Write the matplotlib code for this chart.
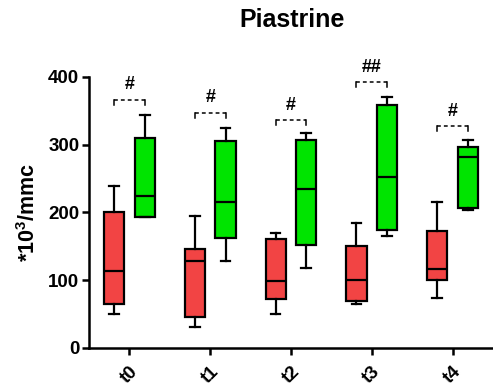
import matplotlib
matplotlib.use("Agg")
import matplotlib.pyplot as plt
import numpy as np

plt.rcParams["font.family"] = ["Liberation Sans", "DejaVu Sans"]
plt.rcParams["font.weight"] = "bold"
plt.rcParams["mathtext.fontset"] = "custom"
plt.rcParams["mathtext.bf"] = "Liberation Sans:bold"
plt.rcParams["mathtext.rm"] = "Liberation Sans:bold"

# time points
categorie = ["t0", "t1", "t2", "t3", "t4"]

# red group: whisker low, Q1, median, Q3, whisker high
rosso_min = [50, 31, 50, 65, 74]
rosso_q1 = [65, 46, 72, 70, 100]
rosso_med = [113, 129, 99, 100, 116]
rosso_q3 = [201, 146, 161, 150, 173]
rosso_max = [239, 195, 170, 185, 216]

# green group
verde_min = [193, 128, 118, 165, 204]
verde_q1 = [194, 162, 152, 174, 206]
verde_med = [224, 216, 235, 253, 282]
verde_q3 = [310, 306, 307, 358, 297]
verde_max = [344, 324, 318, 371, 307]

# significance marks
simboli = ["#", "#", "#", "##", "#"]
parentesi_y = [366, 347, 336, 392, 327]


def crea_stats(lo, q1, med, q3, hi):
    return [dict(whislo=a, q1=b, med=c, q3=d, whishi=e, fliers=[])
            for a, b, c, d, e in zip(lo, q1, med, q3, hi)]


x = np.arange(len(categorie))
offset = 0.19
larghezza = 0.25

fig = plt.figure(figsize=(4.93, 3.89), dpi=100)
ax = fig.add_axes([0.1805, 0.1054, 0.8195, 0.6967])

stile_linea = dict(color="black", linewidth=1.6)
for stats, pos, colore in [
    (crea_stats(rosso_min, rosso_q1, rosso_med, rosso_q3, rosso_max), x - offset, "#f24444"),
    (crea_stats(verde_min, verde_q1, verde_med, verde_q3, verde_max), x + offset, "#00e400"),
]:
    ax.bxp(stats, positions=pos, widths=larghezza, patch_artist=True,
           showfliers=False, capwidths=0.12,
           boxprops=dict(facecolor=colore, edgecolor="black", linewidth=1.6),
           medianprops=stile_linea, whiskerprops=stile_linea, capprops=stile_linea,
           manage_ticks=False)

# brackets with significance symbols
for xi, yb, s in zip(x, parentesi_y, simboli):
    x1, x2 = xi - offset, xi + offset
    ax.plot([x1, x2], [yb, yb], color="black", linestyle=(0, (2.5, 2)), linewidth=1.1,
            clip_on=False)
    ax.plot([x1, x1], [yb, yb - 7], color="black", linewidth=1.1, clip_on=False)
    ax.plot([x2, x2], [yb, yb - 7], color="black", linewidth=1.1, clip_on=False)
    ax.text(xi, yb + 10, s, ha="center", va="bottom", fontsize=13, fontweight="bold")

ax.set_xlim(-0.5, 4.5)
ax.set_ylim(0, 400)
ax.set_yticks([0, 100, 200, 300, 400])
ax.set_xticks(x)
ax.set_xticklabels(categorie, rotation=45, ha="right", rotation_mode="anchor")
ax.tick_params(axis="both", labelsize=13.5, width=1.8, length=5)
ax.tick_params(axis="x", pad=6)
ax.tick_params(axis="y", pad=2)

for lato in ["top", "right"]:
    ax.spines[lato].set_visible(False)
for lato in ["left", "bottom"]:
    ax.spines[lato].set_linewidth(1.8)

ax.set_ylabel("*10$^\\mathbf{3}$/mmc", fontsize=15.5, fontweight="bold", labelpad=6)
fig.suptitle("Piastrine", x=0.592, y=0.98, fontsize=18, fontweight="bold")

fig.savefig("out.png", dpi=100)
